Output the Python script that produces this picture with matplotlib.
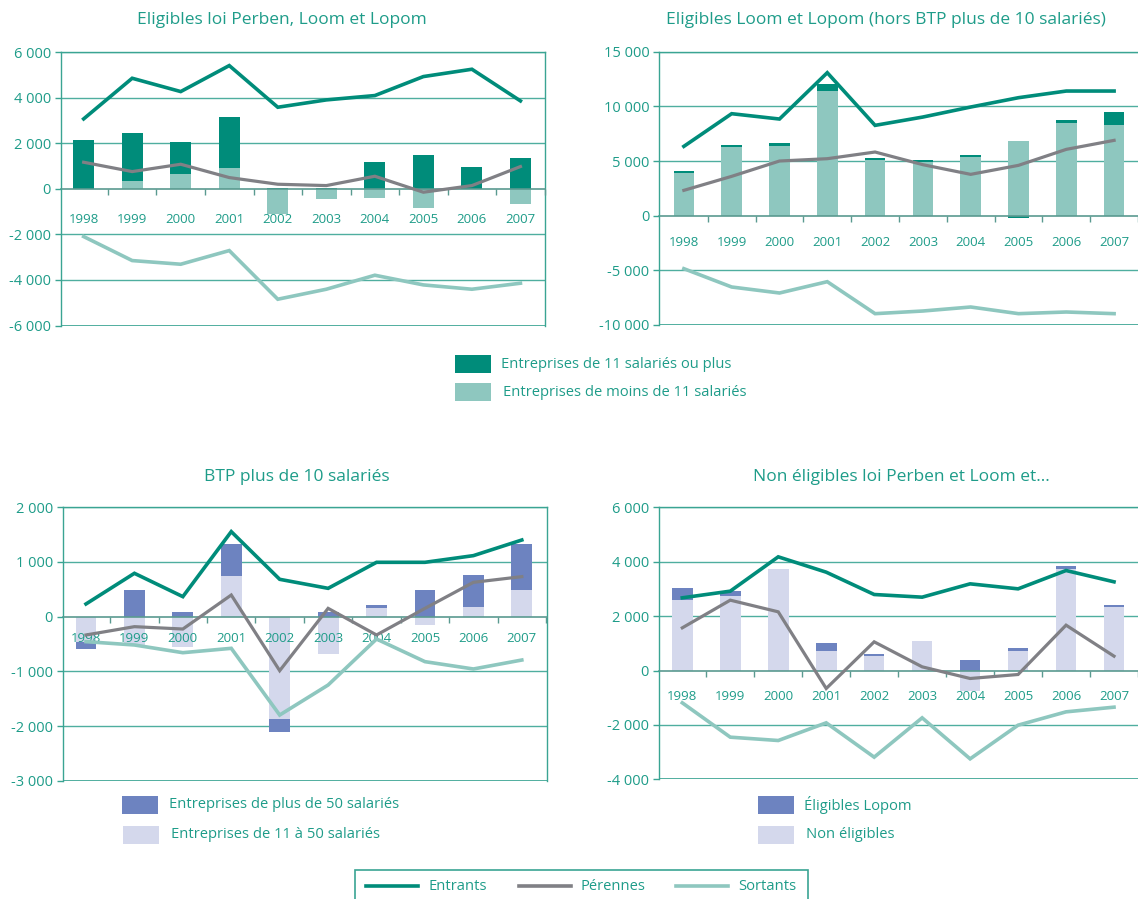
import matplotlib
matplotlib.use("Agg")
import matplotlib.pyplot as plt
import numpy as np
from matplotlib.patches import Rectangle
from matplotlib.lines import Line2D

plt.rcParams['font.family'] = ['Open Sans', 'DejaVu Sans']

years = ['1998', '1999', '2000', '2001', '2002', '2003', '2004', '2005', '2006', '2007']

# Panel 1 : Eligibles loi Perben, Loom et Lopom
p1_title = "Eligibles loi Perben, Loom et Lopom"
p1_dark = [2150, 2094, 1405, 2225, 60, 30, 1171, 1493, 966, 1361]
p1_light = [0, 351, 659, 937, -1098, -425, -380, -820, 0, -644]
p1_entrants = [3075, 4860, 4275, 5417, 3587, 3909, 4100, 4934, 5256, 3865]
p1_perennes = [1171, 761, 1083, 498, 205, 146, 556, -146, 146, 981]
p1_sortants = [-2094, -3148, -3309, -2709, -4846, -4407, -3792, -4217, -4407, -4143]
p1_yticks = [-6000, -4000, -2000, 0, 2000, 4000, 6000]
p1_ylabels = ['-6 000', '-4 000', '-2 000', '0', '2 000', '4 000', '6 000']

# Panel 2 : Eligibles Loom et Lopom (hors BTP plus de 10 salariés)
p2_title = "Eligibles Loom et Lopom (hors BTP plus de 10 salariés)"
p2_dark = [150, 150, 275, 640, 210, 150, 150, -213, 244, 1190]
p2_light = [3902, 6280, 6341, 11402, 5061, 4909, 5366, 6799, 8476, 8262]
p2_entrants = [6341, 9329, 8841, 13079, 8262, 9024, 9939, 10793, 11402, 11402]
p2_perennes = [2317, 3598, 5000, 5213, 5823, 4665, 3780, 4604, 6067, 6890]
p2_sortants = [-4848, -6524, -7073, -6037, -8963, -8720, -8354, -8963, -8811, -8963]
p2_yticks = [-10000, -5000, 0, 5000, 10000, 15000]
p2_ylabels = ['-10 000', '-5 000', '0', '5 000', '10 000', '15 000']

# Panel 3 : BTP plus de 10 salariés
p3_title = "BTP plus de 10 salariés"
p3_dark = [-130, 488, 85, 579, -232, 85, 48, 488, 585, 841]
p3_light = [-470, -520, -549, 750, -1872, -677, 165, -152, 177, 488]
p3_entrants = [232, 793, 366, 1555, 683, 518, 994, 994, 1116, 1402]
p3_perennes = [-335, -183, -226, 396, -988, 152, -335, 152, 628, 732]
p3_sortants = [-457, -518, -659, -579, -1799, -1250, -409, -823, -957, -793]
p3_yticks = [-3000, -2000, -1000, 0, 1000, 2000]
p3_ylabels = ['-3 000', '-2 000', '-1 000', '0', '1 000', '2 000']

# Panel 4 : Non éligibles loi Perben et Loom et...
p4_title = "Non éligibles loi Perben et Loom et..."
p4_dark = [429, 184, 0, 318, 74, 0, 368, 98, 86, 85]
p4_light = [2610, 2757, 3750, 711, 551, 1078, -760, 711, 3750, 2341]
p4_entrants = [2672, 2917, 4179, 3615, 2794, 2696, 3186, 3002, 3676, 3260]
p4_perennes = [1569, 2586, 2157, -662, 1054, 135, -294, -147, 1667, 527]
p4_sortants = [-1189, -2451, -2574, -1924, -3186, -1740, -3248, -2010, -1520, -1348]
p4_yticks = [-4000, -2000, 0, 2000, 4000, 6000]
p4_ylabels = ['-4 000', '-2 000', '0', '2 000', '4 000', '6 000']

legend_teal = ['Entreprises de 11 salariés ou plus', 'Entreprises de moins de 11 salariés']
legend_btp = ['Entreprises de plus de 50 salariés', 'Entreprises de 11 à 50 salariés']
legend_non = ['Éligibles Lopom', 'Non éligibles']
legend_lines = ['Entrants', 'Pérennes', 'Sortants']

# Styles
DARK_TEAL = '#008c7a'
LIGHT_TEAL = '#8ec7bf'
GREY = '#808085'
BLUE = '#6d83c0'
LAVENDER = '#d4d8ec'
TEXT = '#1e9c89'
FRAME = '#3aa493'
GRID = '#4fae9f'
ZERO = '#5a9a90'

W, H = 1138, 899
fig = plt.figure(figsize=(W / 100, H / 100), dpi=100)


def px_axes(x0, x1, y_top, y_bot):
    return fig.add_axes([x0 / W, 1 - y_bot / H, (x1 - x0) / W, (y_bot - y_top) / H])


def draw_panel(ax, dark, light, entr, pere, sort, yticks, ylabels, c_dark, c_light,
               xlim, label_pad, show_right=True):
    x = np.arange(len(years))
    dark = np.array(dark, dtype=float)
    light = np.array(light, dtype=float)
    same = np.sign(dark) == np.sign(light)
    bottom_dark = np.where(same, light, 0.0)
    bw = 0.43
    ax.bar(x, light, width=bw, color=c_light, zorder=2, linewidth=0)
    ax.bar(x, dark, bottom=bottom_dark, width=bw, color=c_dark, zorder=2, linewidth=0)
    ax.plot(x, sort, color=LIGHT_TEAL, lw=2.6, zorder=4, solid_joinstyle='miter')
    ax.plot(x, pere, color=GREY, lw=2.3, zorder=5, solid_joinstyle='miter')
    ax.plot(x, entr, color=DARK_TEAL, lw=2.6, zorder=6, solid_joinstyle='miter')
    ax.set_xlim(*xlim)
    ax.set_ylim(yticks[0], yticks[-1])
    for yv in yticks:
        if yv != 0:
            ax.axhline(yv, color=GRID, lw=1.0, zorder=1)
    ax.set_axisbelow(False)
    ax.set_yticks(yticks)
    ax.set_yticklabels(ylabels)
    ax.tick_params(axis='y', colors=FRAME, labelcolor=TEXT, labelsize=10.5,
                   length=4, width=1, pad=3, direction='out')
    ax.set_xticks(x)
    ax.set_xticklabels(years)
    ax.set_xticks(np.arange(0.5, len(years), 1.0), minor=True)
    ax.tick_params(axis='x', which='major', length=0, pad=label_pad,
                   labelcolor=TEXT, labelsize=9.5)
    ax.tick_params(axis='x', which='minor', length=4, width=1, color=ZERO,
                   direction='out')
    ax.spines['bottom'].set_position(('data', 0))
    ax.spines['bottom'].set_color(ZERO)
    ax.spines['bottom'].set_linewidth(1.2)
    for s in ['left', 'top', 'right']:
        ax.spines[s].set_color(FRAME)
        ax.spines[s].set_linewidth(1.0)
    ax.spines['right'].set_visible(show_right)
    ax.axhline(yticks[0], color=FRAME, lw=1.2, zorder=1)
    ax.set_facecolor('none')


ax1 = px_axes(60.7, 545, 52.3, 325.5)
draw_panel(ax1, p1_dark, p1_light, p1_entrants, p1_perennes, p1_sortants,
           p1_yticks, p1_ylabels, DARK_TEAL, LIGHT_TEAL, (-0.473, 9.506), 17.5)

ax2 = px_axes(659, 1138, 51.7, 325)
draw_panel(ax2, p2_dark, p2_light, p2_entrants, p2_perennes, p2_sortants,
           p2_yticks, p2_ylabels, DARK_TEAL, LIGHT_TEAL, (-0.52, 9.445), 14.5,
           show_right=False)

ax3 = px_axes(62.5, 547, 507.3, 780.7)
draw_panel(ax3, p3_dark, p3_light, p3_entrants, p3_perennes, p3_sortants,
           p3_yticks, p3_ylabels, BLUE, LAVENDER, (-0.485, 9.52), 11)

ax4 = px_axes(658.8, 1138, 507.3, 779.3)
draw_panel(ax4, p4_dark, p4_light, p4_entrants, p4_perennes, p4_sortants,
           p4_yticks, p4_ylabels, BLUE, LAVENDER, (-0.49, 9.435), 14.3,
           show_right=False)

# Titles
for title, cx, cy in [(p1_title, 282, 20), (p2_title, 886, 20),
                      (p3_title, 297, 477), (p4_title, 901, 477)]:
    fig.text(cx / W, 1 - cy / H, title, ha='center', va='center',
             color=TEXT, fontsize=12.5)


def legend_box(x0, y0, w, h, color):
    fig.add_artist(Rectangle((x0 / W, 1 - (y0 + h) / H), w / W, h / H,
                             transform=fig.transFigure, color=color, lw=0))


def legend_text(x, y, s):
    fig.text(x / W, 1 - y / H, s, ha='left', va='center', color=TEXT, fontsize=10.6)


# Legend for the top panels
legend_box(455, 355, 36, 18, DARK_TEAL)
legend_text(501, 364, legend_teal[0])
legend_box(455, 383, 36, 18, LIGHT_TEAL)
legend_text(503, 393, legend_teal[1])

# Legend for BTP
legend_box(122, 796, 36, 18, BLUE)
legend_text(169, 805, legend_btp[0])
legend_box(123, 826, 36, 18, LAVENDER)
legend_text(171, 835, legend_btp[1])

# Legend for non eligibles
legend_box(758, 796, 36, 18, BLUE)
legend_text(804, 805, legend_non[0])
legend_box(758, 826, 36, 18, LAVENDER)
legend_text(806, 835, legend_non[1])

# Line legend box
fig.add_artist(Rectangle((355 / W, 1 - 905 / H), (808 - 355) / W, (905 - 870) / H,
                         transform=fig.transFigure, fill=False, edgecolor=FRAME, lw=1.2))
line_colors = [DARK_TEAL, GREY, LIGHT_TEAL]
line_starts = [366, 519, 676]
for lbl, col, xs in zip(legend_lines, line_colors, line_starts):
    fig.add_artist(Line2D([xs / W, (xs + 52) / W], [1 - 886 / H, 1 - 886 / H],
                          transform=fig.transFigure, color=col, lw=2.6))
    fig.text((xs + 62) / W, 1 - 886 / H, lbl, ha='left', va='center',
             color=TEXT, fontsize=10.6)

fig.savefig('out.png', dpi=100, facecolor='white')
